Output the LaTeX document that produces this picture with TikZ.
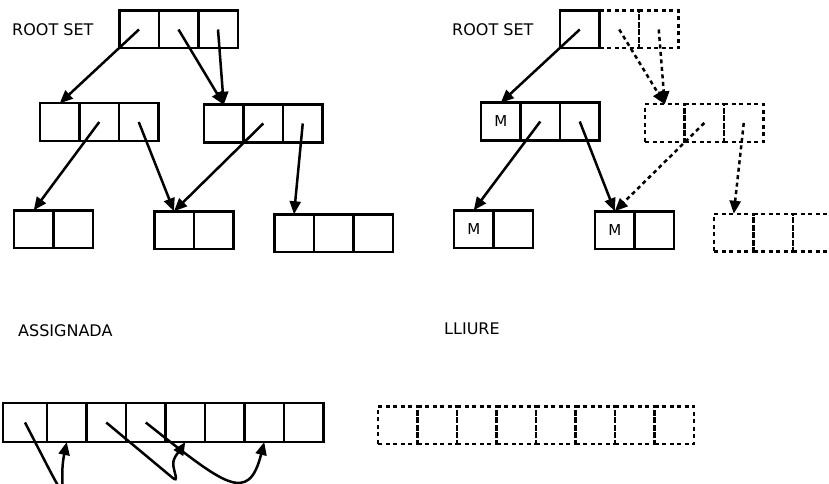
\documentclass[tikz,border=0pt]{standalone}
\usepackage{fontspec}
\setmainfont{DejaVu Sans}
\usetikzlibrary{positioning,arrows.meta}
\tikzset{
  cel/.style={rectangle, draw=black, line width=2.5pt, minimum width=39.5pt,
    minimum height=37.5pt, inner sep=0pt, outer sep=0pt, font=\fontsize{15}{18}\selectfont},
  celt/.style={cel, dash pattern=on 4pt off 3.5pt},
  fletxa/.style={-{Triangle[length=13pt,width=11pt]}, line width=2.5pt},
  fletxat/.style={fletxa, dash pattern=on 4pt off 3.5pt},
  etq/.style={anchor=west, inner sep=0pt, font=\fontsize{16}{19}\selectfont},
}
\begin{document}
\begin{tikzpicture}[x=1pt, y=-1pt]
  \useasboundingbox (0,0) rectangle (829,484);
  \clip (0,0) rectangle (829,484);

  % abans de recollir
  \node[etq] (rsa) at (12,30) {ROOT SET};
  \node[cel] (ra1) at (139,29.5) {};
  \node[cel, right=0pt of ra1] (ra2) {};
  \node[cel, right=0pt of ra2] (ra3) {};
  \node[cel] (ma1) at (59.75,122) {};
  \node[cel, right=0pt of ma1] (ma2) {};
  \node[cel, right=0pt of ma2] (ma3) {};
  \node[cel] (na1) at (223.75,123.5) {};
  \node[cel, right=0pt of na1] (na2) {};
  \node[cel, right=0pt of na2] (na3) {};
  \node[cel] (ba1) at (33.75,229) {};
  \node[cel, right=0pt of ba1] (ba2) {};
  \node[cel] (ca1) at (174,230) {};
  \node[cel, right=0pt of ca1] (ca2) {};
  \node[cel] (da1) at (294,233) {};
  \node[cel, right=0pt of da1] (da2) {};
  \node[cel, right=0pt of da2] (da3) {};

  \draw[fletxa] (ra1.center) -- (ma1.north);
  \draw[fletxa] (ra2.center) -- (na1.north);
  \draw[fletxa] (ra3.center) -- (na1.north);
  \draw[fletxa] (ma2.center) -- (ba1.north);
  \draw[fletxa] (ma3.center) -- (ca1.north);
  \draw[fletxa] (na2.center) -- (ca1.north);
  \draw[fletxa] (na3.center) -- (da1.north);

  % despres de marcar
  \node[etq] (rsb) at (452,30) {ROOT SET};
  \node[celt] (rb2) at (619.25,29.5) {};
  \node[celt, right=0pt of rb2] (rb3) {};
  \node[cel, left=0pt of rb2] (rb1) {};
  \node[cel] (mb1) at (500.75,121.5) {M};
  \node[cel, right=0pt of mb1] (mb2) {};
  \node[cel, right=0pt of mb2] (mb3) {};
  \node[celt] (nb1) at (664.75,123) {};
  \node[celt, right=0pt of nb1] (nb2) {};
  \node[celt, right=0pt of nb2] (nb3) {};
  \node[cel] (bb1) at (473.75,229) {M};
  \node[cel, right=0pt of bb1] (bb2) {};
  \node[cel] (cb1) at (614.75,230) {M};
  \node[cel, right=0pt of cb1] (cb2) {};
  \node[celt] (db1) at (733.75,232.5) {};
  \node[celt, right=0pt of db1] (db2) {};
  \node[celt, right=0pt of db2] (db3) {};

  \draw[fletxa] (rb1.center) -- (mb1.north);
  \draw[fletxat] (rb2.center) -- (nb1.north);
  \draw[fletxat] (rb3.center) -- (nb1.north);
  \draw[fletxa] (mb2.center) -- (bb1.north);
  \draw[fletxa] (mb3.center) -- (cb1.north);
  \draw[fletxat] (nb2.center) -- (cb1.north);
  \draw[fletxat] (nb3.center) -- (db1.north);

  % memoria assignada i lliure
  \node[etq] (asg) at (18,331) {ASSIGNADA};
  \node[etq] (llu) at (444,329) {LLIURE};
  \node[cel, minimum width=44pt, minimum height=39pt] (as1) at (25,422.5) {};
  \foreach \i [count=\j from 2] in {1,...,7}
    \node[cel, minimum height=39pt, right=0pt of as\i] (as\j) {};
  \node[celt] (ll1) at (397.75,425) {};
  \foreach \i [count=\j from 2] in {1,...,7}
    \node[celt, right=0pt of ll\i] (ll\j) {};

  \draw[fletxa] (as1.center) .. controls +(52,100) and +(-10,48) .. (as2.south);
  \draw[fletxa] (as3.center) -- ++(66,55) .. controls +(7,6) and +(1,8) .. ++(1,-12.5)
    .. controls +(-1,-7) and +(-5,8) .. (as5.south);
  \draw[fletxa] (as4.center) .. controls +(79,62.5) and +(-16,63) .. (as7.south);
\end{tikzpicture}
\end{document}
